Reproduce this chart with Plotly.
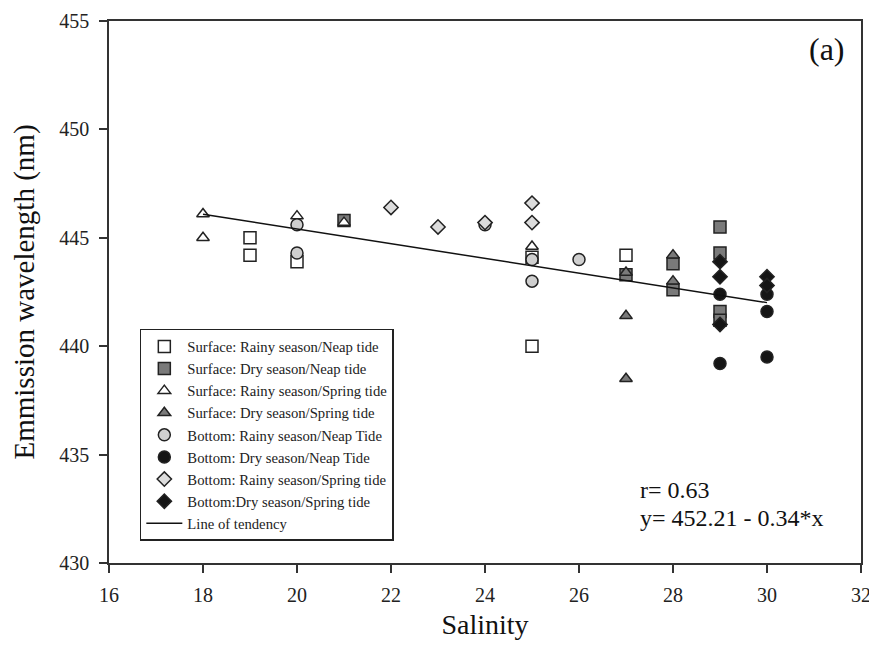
import plotly.graph_objects as go

# ---- data ----
surf_rain_neap_x = [19, 19, 20, 25, 25, 27]
surf_rain_neap_y = [445.0, 444.2, 443.9, 444.1, 440.0, 444.2]

surf_dry_neap_x = [21, 27, 28, 28, 29, 29, 29, 29]
surf_dry_neap_y = [445.8, 443.3, 443.8, 442.6, 445.5, 444.3, 441.6, 441.2]

surf_rain_spring_x = [18, 18, 20, 21, 25]
surf_rain_spring_y = [446.1, 445.0, 446.0, 445.7, 444.6]

surf_dry_spring_x = [27, 27, 27, 28, 28]
surf_dry_spring_y = [443.4, 441.4, 438.5, 444.2, 443.0]

bot_rain_neap_x = [20, 20, 24, 25, 25, 26]
bot_rain_neap_y = [445.6, 444.3, 445.6, 444.0, 443.0, 444.0]

bot_dry_neap_x = [29, 29, 30, 30, 30]
bot_dry_neap_y = [442.4, 439.2, 442.4, 441.6, 439.5]

bot_rain_spring_x = [22, 23, 24, 25, 25]
bot_rain_spring_y = [446.4, 445.5, 445.7, 446.6, 445.7]

bot_dry_spring_x = [29, 29, 29, 30, 30]
bot_dry_spring_y = [443.9, 443.2, 441.0, 443.2, 442.8]

trend_intercept = 452.21
trend_slope = -0.34
trend_x = [18, 30]
trend_y = [trend_intercept + trend_slope * v for v in trend_x]

x_ticks = [16, 18, 20, 22, 24, 26, 28, 30, 32]
y_ticks = [430, 435, 440, 445, 450, 455]

FONT = "Liberation Serif"

series = [
    ("Surface: Rainy season/Neap tide", surf_rain_neap_x, surf_rain_neap_y, "square", "white", 12),
    ("Surface: Dry season/Neap tide", surf_dry_neap_x, surf_dry_neap_y, "square", "#7a7a7a", 12),
    ("Surface: Rainy season/Spring tide", surf_rain_spring_x, surf_rain_spring_y, "triangle-up", "white", 11),
    ("Surface: Dry season/Spring tide", surf_dry_spring_x, surf_dry_spring_y, "triangle-up", "#7a7a7a", 11),
    ("Bottom: Rainy season/Neap Tide", bot_rain_neap_x, bot_rain_neap_y, "circle", "#cfcfcf", 12),
    ("Bottom: Dry season/Neap Tide", bot_dry_neap_x, bot_dry_neap_y, "circle", "#151515", 12),
    ("Bottom: Rainy season/Spring tide", bot_rain_spring_x, bot_rain_spring_y, "diamond", "#dcdcdc", 11),
    ("Bottom:Dry season/Spring tide", bot_dry_spring_x, bot_dry_spring_y, "diamond", "#151515", 11),
]

fig = go.Figure()
for name, xs, ys, sym, fill, size in series:
    fig.add_trace(go.Scatter(
        x=xs, y=ys, mode="markers", name=name,
        marker=dict(symbol=sym, size=size, color=fill,
                    line=dict(color="#222222", width=1.5)),
    ))

fig.add_trace(go.Scatter(
    x=trend_x, y=trend_y, mode="lines", name="Line of tendency",
    line=dict(color="#111111", width=1.5),
))

fig.add_annotation(x=0.703, y=0.135, xref="paper", yref="paper", xanchor="left", yanchor="middle",
                   text="r= 0.63", showarrow=False, font=dict(family=FONT, size=24, color="#111"))
fig.add_annotation(x=0.703, y=0.083, xref="paper", yref="paper", xanchor="left", yanchor="middle",
                   text="y= 452.21 - 0.34*x", showarrow=False, font=dict(family=FONT, size=24, color="#111"))
fig.add_annotation(x=0.982, y=0.985, xref="paper", yref="paper", xanchor="right", yanchor="top",
                   text="(a)", showarrow=False, font=dict(family=FONT, size=32, color="#111"))

axis_common = dict(
    showgrid=False, zeroline=False, showline=True, linecolor="#333333", linewidth=1.5,
    mirror=True, ticks="outside", ticklen=8, tickwidth=1.5, tickcolor="#333333",
    tickfont=dict(family=FONT, size=20, color="#222"), automargin=False,
)

# page body adds an 8px offset; figure sized so the plot box lands at 109..861 x 21..563
fig.update_layout(
    width=869, height=649,
    margin=dict(l=101, r=16, t=13, b=94),
    paper_bgcolor="white", plot_bgcolor="white",
    font=dict(family=FONT, color="#111"),
    showlegend=True,
    legend=dict(
        x=0.041, y=0.432, xanchor="left", yanchor="top",
        bgcolor="white", bordercolor="#222222", borderwidth=1.5,
        itemwidth=36,
        font=dict(family=FONT, size=14.7, color="#222"),
    ),
    xaxis=dict(range=[16, 32], tickvals=x_ticks, ticklabelstandoff=5,
               title=dict(text="Salinity", font=dict(family=FONT, size=28), standoff=10),
               **axis_common),
    yaxis=dict(range=[430, 455], tickvals=y_ticks, ticklabelstandoff=6,
               title=dict(text="Emmission wavelength (nm)", font=dict(family=FONT, size=29), standoff=18),
               **axis_common),
)

fig.write_html("out.html")
